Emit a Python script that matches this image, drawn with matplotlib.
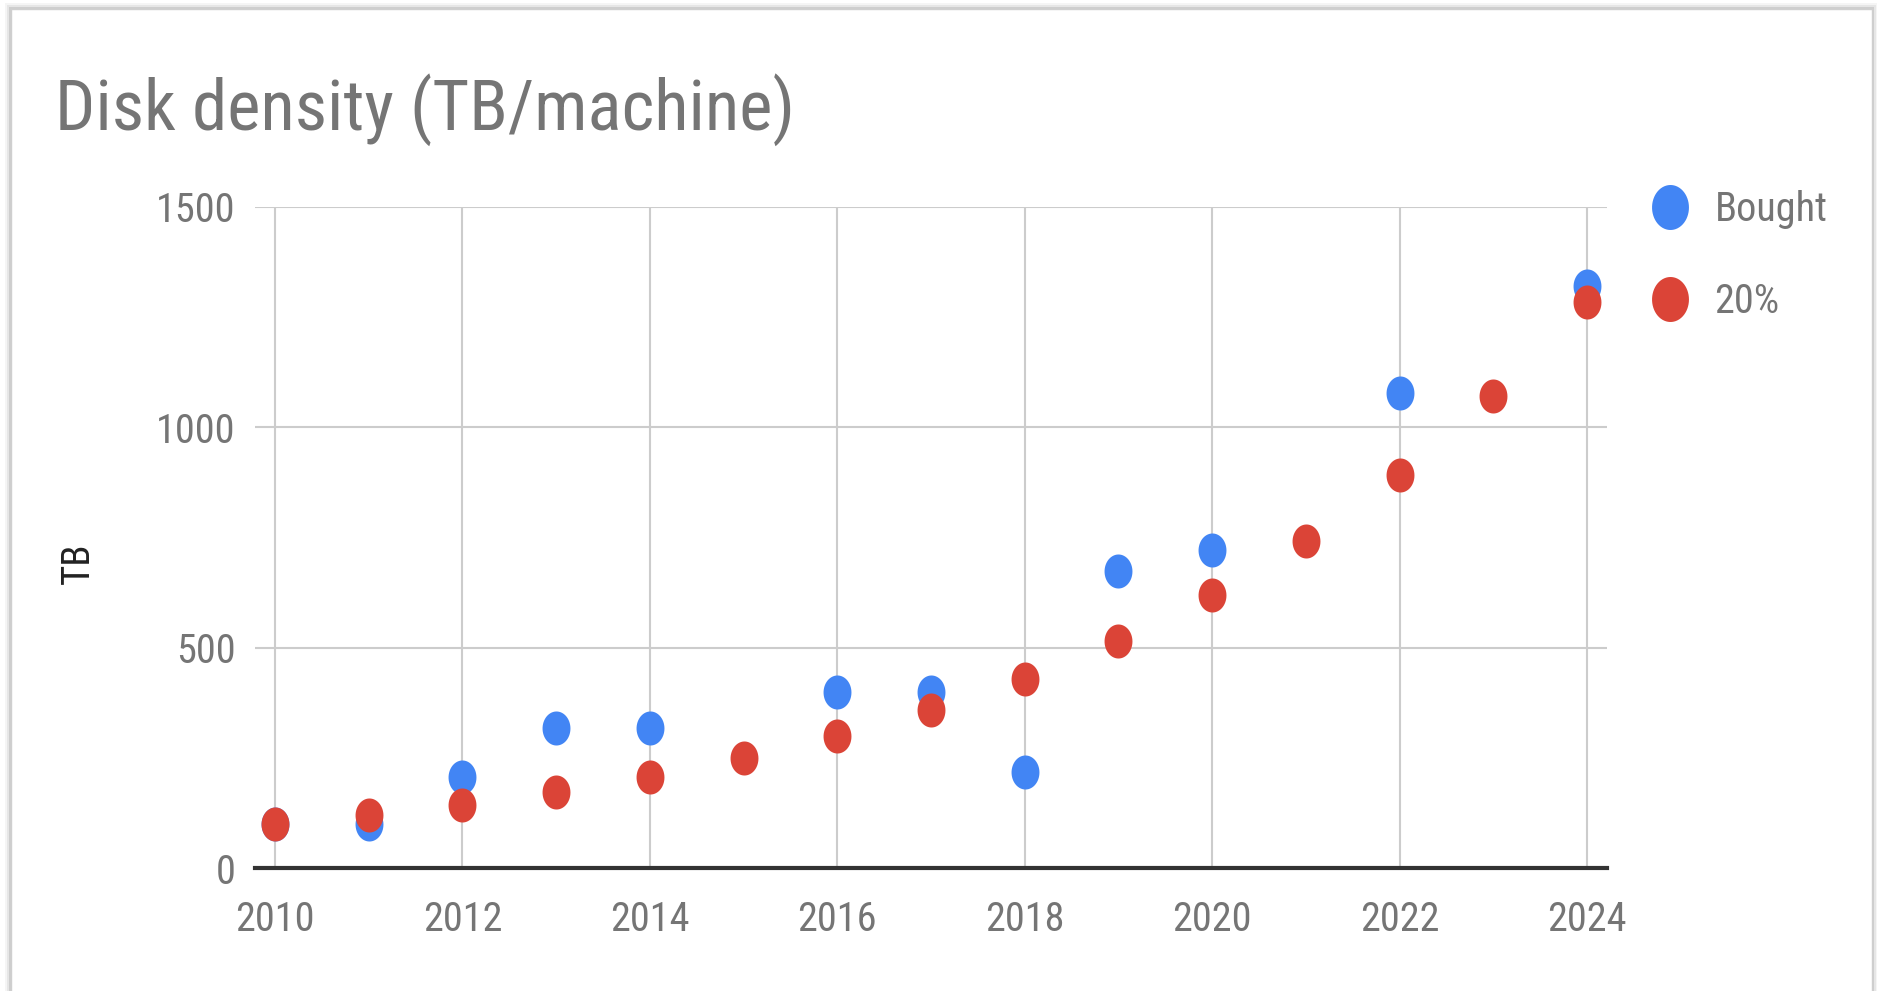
import matplotlib
matplotlib.use("Agg")
import matplotlib.pyplot as plt
import numpy as np
from matplotlib.path import Path
from matplotlib.patches import Rectangle

plt.rcParams['font.family'] = ['Roboto Condensed', 'Roboto', 'DejaVu Sans']

# ---- data ----
bought_years = [2010, 2011, 2012, 2013, 2014, 2016, 2017, 2018, 2019, 2020, 2022, 2024]
bought_tb = [100, 100, 206, 317, 317, 399, 399, 217, 673, 721, 1079, 1321]
pct20_years = [2010, 2011, 2012, 2013, 2014, 2015, 2016, 2017, 2018, 2019, 2020, 2021, 2022, 2023, 2024]
pct20_tb = [100, 120, 144, 173, 207, 249, 299, 358, 430, 516, 619, 743, 892, 1070, 1284]
series_labels = ["Bought", "20%"]
x_ticks = [2010, 2012, 2014, 2016, 2018, 2020, 2022, 2024]
y_ticks = [0, 500, 1000, 1500]
title = "Disk density (TB/machine)"
y_label = "TB"

BLUE = "#4285F4"
RED = "#DB4437"
GRAY_TXT = "#757575"

W, H = 1877, 991
fig = plt.figure(figsize=(W / 100, H / 100), dpi=100)
fig.patch.set_facecolor("white")

# card with soft shadow
for off, a in [(6, 0.04), (4, 0.06), (2, 0.10)]:
    fig.patches.append(Rectangle(((11 - off) / W, -0.05), (1872 - 11 + 2 * off) / W,
                                 (982 + off) / H + 0.05, transform=fig.transFigure,
                                 facecolor="#000000", alpha=a, edgecolor="none", zorder=0))
fig.patches.append(Rectangle((11 / W, -0.05), (1872 - 11) / W, 982 / H + 0.05,
                             transform=fig.transFigure, facecolor="white",
                             edgecolor="#cfcfcf", lw=1.0, zorder=1))

# ellipse marker (taller than wide)
t = np.linspace(0, 2 * np.pi, 60)
ell = Path(np.column_stack([0.82 * np.cos(t), np.sin(t)]), closed=True)

ax = fig.add_axes([255 / W, 1 - 868 / H, (1607 - 255) / W, (868 - 207) / H])
ax.set_facecolor("none")
ax.set_zorder(2)

ax.plot(bought_years, bought_tb, linestyle="none", marker=ell, ms=24.5,
        mfc=BLUE, mec="none", zorder=3, label=series_labels[0])
ax.plot(pct20_years, pct20_tb, linestyle="none", marker=ell, ms=24.5,
        mfc=RED, mec="none", zorder=4, label=series_labels[1])

ax.set_xlim(2010 - 20 / 93.7, 2024 + 20 / 93.7)
ax.set_ylim(0, 1500)
ax.set_xticks(x_ticks)
ax.set_yticks(y_ticks)
ax.set_xticklabels([str(v) for v in x_ticks])
ax.set_yticklabels([str(v) for v in y_ticks])
ax.grid(True, color="#cccccc", lw=1.5, zorder=1)
ax.set_axisbelow(True)
for s in ["top", "right", "left"]:
    ax.spines[s].set_visible(False)
ax.spines["bottom"].set_color("#333333")
ax.spines["bottom"].set_linewidth(3)
ax.spines["bottom"].set_zorder(5)
ax.tick_params(axis="both", length=0, labelsize=29, labelcolor=GRAY_TXT)
ax.tick_params(axis="x", pad=23)
ax.tick_params(axis="y", pad=14)

fig.text(78 / W, 1 - 563 / H, y_label, rotation=90, ha="center", va="center",
         fontsize=28, color="#222222")
fig.text(55 / W, 1 - 110 / H, title, ha="left", va="center", fontsize=51, color=GRAY_TXT)

leg = ax.legend(loc="upper left", bbox_to_anchor=(1650 / W, 1 - 190 / H),
                bbox_transform=fig.transFigure, frameon=False, fontsize=29,
                markerscale=32.4 / 24.5, handlelength=1.0, handletextpad=0.6,
                labelspacing=1.32, borderpad=0, borderaxespad=0)
for txt in leg.get_texts():
    txt.set_color(GRAY_TXT)

fig.savefig("out.png", dpi=100, facecolor="white")
